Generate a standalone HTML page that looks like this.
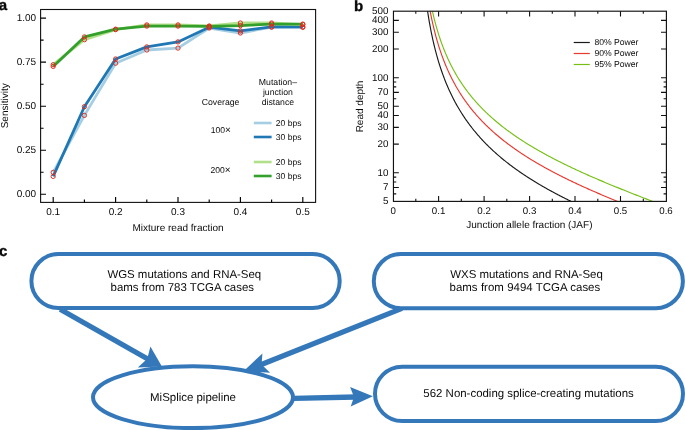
<!DOCTYPE html><html><head><meta charset="utf-8"><title>Figure</title><style>html,body{margin:0;padding:0;background:#fff}svg{display:block;will-change:transform}text{font-family:"Liberation Sans",sans-serif;fill:#0a0a0a;text-rendering:geometricPrecision}</style></head><body>
<svg width="685" height="430" viewBox="0 0 685 430">
<rect width="685" height="430" fill="#fff"/>
<polyline points="53.2,172.3 84.4,115.4 115.6,63.2 146.8,50.0 178.0,48.1 209.2,28.0 240.4,33.0 271.6,27.1 302.8,27.4" fill="none" stroke="#a6cee3" stroke-width="2.8" stroke-linejoin="round" stroke-linecap="butt"/>
<polyline points="53.2,176.4 84.4,106.7 115.6,59.0 146.8,46.9 178.0,41.9 209.2,27.2 240.4,30.9 271.6,26.9 302.8,26.8" fill="none" stroke="#1f78b4" stroke-width="2.8" stroke-linejoin="round" stroke-linecap="butt"/>
<polyline points="53.2,64.7 84.4,39.7 115.6,29.6 146.8,24.9 178.0,24.9 209.2,26.0 240.4,23.0 271.6,23.0 302.8,24.6" fill="none" stroke="#b2df8a" stroke-width="2.8" stroke-linejoin="round" stroke-linecap="butt"/>
<polyline points="53.2,66.4 84.4,36.9 115.6,29.2 146.8,26.1 178.0,26.1 209.2,26.4 240.4,25.6 271.6,24.1 302.8,24.1" fill="none" stroke="#33a02c" stroke-width="2.8" stroke-linejoin="round" stroke-linecap="butt"/>
<circle cx="53.2" cy="172.3" r="2.15" fill="none" stroke="#dd2a1e" stroke-width="0.95"/>
<circle cx="84.4" cy="115.4" r="2.15" fill="none" stroke="#dd2a1e" stroke-width="0.95"/>
<circle cx="115.6" cy="63.2" r="2.15" fill="none" stroke="#dd2a1e" stroke-width="0.95"/>
<circle cx="146.8" cy="50.0" r="2.15" fill="none" stroke="#dd2a1e" stroke-width="0.95"/>
<circle cx="178.0" cy="48.1" r="2.15" fill="none" stroke="#dd2a1e" stroke-width="0.95"/>
<circle cx="209.2" cy="28.0" r="2.15" fill="none" stroke="#dd2a1e" stroke-width="0.95"/>
<circle cx="240.4" cy="33.0" r="2.15" fill="none" stroke="#dd2a1e" stroke-width="0.95"/>
<circle cx="271.6" cy="27.1" r="2.15" fill="none" stroke="#dd2a1e" stroke-width="0.95"/>
<circle cx="302.8" cy="27.4" r="2.15" fill="none" stroke="#dd2a1e" stroke-width="0.95"/>
<circle cx="53.2" cy="176.4" r="2.15" fill="none" stroke="#dd2a1e" stroke-width="0.95"/>
<circle cx="84.4" cy="106.7" r="2.15" fill="none" stroke="#dd2a1e" stroke-width="0.95"/>
<circle cx="115.6" cy="59.0" r="2.15" fill="none" stroke="#dd2a1e" stroke-width="0.95"/>
<circle cx="146.8" cy="46.9" r="2.15" fill="none" stroke="#dd2a1e" stroke-width="0.95"/>
<circle cx="178.0" cy="41.9" r="2.15" fill="none" stroke="#dd2a1e" stroke-width="0.95"/>
<circle cx="209.2" cy="27.2" r="2.15" fill="none" stroke="#dd2a1e" stroke-width="0.95"/>
<circle cx="240.4" cy="30.9" r="2.15" fill="none" stroke="#dd2a1e" stroke-width="0.95"/>
<circle cx="271.6" cy="26.9" r="2.15" fill="none" stroke="#dd2a1e" stroke-width="0.95"/>
<circle cx="302.8" cy="26.8" r="2.15" fill="none" stroke="#dd2a1e" stroke-width="0.95"/>
<circle cx="53.2" cy="64.7" r="2.15" fill="none" stroke="#dd2a1e" stroke-width="0.95"/>
<circle cx="84.4" cy="39.7" r="2.15" fill="none" stroke="#dd2a1e" stroke-width="0.95"/>
<circle cx="115.6" cy="29.6" r="2.15" fill="none" stroke="#dd2a1e" stroke-width="0.95"/>
<circle cx="146.8" cy="24.9" r="2.15" fill="none" stroke="#dd2a1e" stroke-width="0.95"/>
<circle cx="178.0" cy="24.9" r="2.15" fill="none" stroke="#dd2a1e" stroke-width="0.95"/>
<circle cx="209.2" cy="26.0" r="2.15" fill="none" stroke="#dd2a1e" stroke-width="0.95"/>
<circle cx="240.4" cy="23.0" r="2.15" fill="none" stroke="#dd2a1e" stroke-width="0.95"/>
<circle cx="271.6" cy="23.0" r="2.15" fill="none" stroke="#dd2a1e" stroke-width="0.95"/>
<circle cx="302.8" cy="24.6" r="2.15" fill="none" stroke="#dd2a1e" stroke-width="0.95"/>
<circle cx="53.2" cy="66.4" r="2.15" fill="none" stroke="#dd2a1e" stroke-width="0.95"/>
<circle cx="84.4" cy="36.9" r="2.15" fill="none" stroke="#dd2a1e" stroke-width="0.95"/>
<circle cx="115.6" cy="29.2" r="2.15" fill="none" stroke="#dd2a1e" stroke-width="0.95"/>
<circle cx="146.8" cy="26.1" r="2.15" fill="none" stroke="#dd2a1e" stroke-width="0.95"/>
<circle cx="178.0" cy="26.1" r="2.15" fill="none" stroke="#dd2a1e" stroke-width="0.95"/>
<circle cx="209.2" cy="26.4" r="2.15" fill="none" stroke="#dd2a1e" stroke-width="0.95"/>
<circle cx="240.4" cy="25.6" r="2.15" fill="none" stroke="#dd2a1e" stroke-width="0.95"/>
<circle cx="271.6" cy="24.1" r="2.15" fill="none" stroke="#dd2a1e" stroke-width="0.95"/>
<circle cx="302.8" cy="24.1" r="2.15" fill="none" stroke="#dd2a1e" stroke-width="0.95"/>
<rect x="40.6" y="9.5" width="275.0" height="192.9" fill="none" stroke="#111" stroke-width="1.1"/>
<path d="M40.6 194.2h5.4 M40.6 150.2h5.4 M40.6 106.2h5.4 M40.6 62.1h5.4 M40.6 18.1h5.4 M40.6 172.2h3 M40.6 128.2h3 M40.6 84.2h3 M40.6 40.1h3 M53.2 202.4v-5.3 M84.4 202.4v-2.8 M115.6 202.4v-5.3 M146.8 202.4v-2.8 M178.0 202.4v-5.3 M209.2 202.4v-2.8 M240.4 202.4v-5.3 M271.6 202.4v-2.8 M302.8 202.4v-5.3" stroke="#000" stroke-width="1.15" fill="none"/>
<text x="36.2" y="197.1" font-size="10" text-anchor="end">0.00</text>
<text x="36.2" y="153.1" font-size="10" text-anchor="end">0.25</text>
<text x="36.2" y="109.1" font-size="10" text-anchor="end">0.50</text>
<text x="36.2" y="65.0" font-size="10" text-anchor="end">0.75</text>
<text x="36.2" y="21.0" font-size="10" text-anchor="end">1.00</text>
<text x="53.2" y="215.1" font-size="10" text-anchor="middle">0.1</text>
<text x="115.6" y="215.1" font-size="10" text-anchor="middle">0.2</text>
<text x="178.0" y="215.1" font-size="10" text-anchor="middle">0.3</text>
<text x="240.4" y="215.1" font-size="10" text-anchor="middle">0.4</text>
<text x="302.8" y="215.1" font-size="10" text-anchor="middle">0.5</text>
<text x="178" y="231.1" font-size="10" text-anchor="middle">Mixture read fraction</text>
<text transform="translate(7.5,105.8) rotate(-90)" font-size="10" text-anchor="middle">Sensitivity</text>
<text x="-1.2" y="10.2" font-size="15" font-weight="bold" fill="#000" stroke="#000" stroke-width="0.35">a</text>
<text x="220.6" y="105" font-size="8.7" text-anchor="middle">Coverage</text>
<text x="277.9" y="84.9" font-size="8.7" text-anchor="middle">Mutation–</text>
<text x="277.9" y="94.9" font-size="8.7" text-anchor="middle">junction</text>
<text x="277.9" y="105" font-size="8.7" text-anchor="middle">distance</text>
<text x="220.9" y="133.1" font-size="8.55" text-anchor="middle">100<tspan font-size="10">×</tspan></text>
<text x="220.5" y="173" font-size="8.55" text-anchor="middle">200<tspan font-size="10">×</tspan></text>
<line x1="253.8" x2="271.6" y1="123.0" y2="123.0" stroke="#a6cee3" stroke-width="2.6"/>
<text x="275.8" y="126.0" font-size="8.55">20 bps</text>
<line x1="253.8" x2="271.6" y1="137.0" y2="137.0" stroke="#1f78b4" stroke-width="2.6"/>
<text x="275.8" y="140.0" font-size="8.55">30 bps</text>
<line x1="253.8" x2="271.6" y1="162.0" y2="162.0" stroke="#b2df8a" stroke-width="2.6"/>
<text x="275.8" y="165.0" font-size="8.55">20 bps</text>
<line x1="253.8" x2="271.6" y1="176.0" y2="176.0" stroke="#33a02c" stroke-width="2.6"/>
<text x="275.8" y="179.0" font-size="8.55">30 bps</text>
<clipPath id="cb"><rect x="393.1" y="11.2" width="272.9" height="190.20000000000002"/></clipPath>
<polyline points="424.94,-8.68 425.54,-3.64 426.15,1.09 426.75,5.53 427.35,9.72 427.96,13.70 428.56,17.46 429.17,21.05 429.77,24.47 430.38,27.73 430.98,30.86 431.58,33.86 432.19,36.74 432.79,39.51 433.40,42.18 434.00,44.75 434.60,47.23 435.21,49.64 435.81,51.96 436.42,54.21 437.02,56.39 437.63,58.51 438.23,60.56 438.83,62.56 439.44,64.50 440.04,66.40 440.65,68.24 441.25,70.03 441.85,71.78 442.46,73.49 443.06,75.16 443.67,76.79 444.27,78.38 444.88,79.94 445.48,81.46 446.08,82.95 446.69,84.41 447.29,85.84 447.90,87.24 448.50,88.61 449.10,89.96 449.71,91.28 450.31,92.58 450.92,93.85 451.52,95.10 452.13,96.32 452.73,97.53 453.33,98.72 453.94,99.88 454.54,101.03 455.15,102.16 455.75,103.27 456.35,104.36 456.96,105.43 457.56,106.49 458.17,107.54 458.77,108.56 459.38,109.57 459.98,110.57 460.58,111.56 461.19,112.53 461.79,113.48 462.40,114.42 463.00,115.36 463.60,116.27 464.21,117.18 464.81,118.07 465.42,118.96 466.02,119.83 466.63,120.69 467.23,121.54 467.83,122.38 468.44,123.21 469.04,124.03 469.65,124.84 470.25,125.64 470.85,126.44 471.46,127.22 472.06,127.99 472.67,128.76 473.27,129.52 473.88,130.27 474.48,131.01 475.08,131.74 475.69,132.47 476.29,133.19 476.90,133.90 477.50,134.60 478.10,135.30 478.71,135.99 479.31,136.67 479.92,137.35 480.52,138.02 481.13,138.68 481.73,139.34 482.33,139.99 482.94,140.64 483.54,141.28 484.15,141.91 484.75,142.54 485.35,143.16 485.96,143.78 486.56,144.39 487.17,145.00 487.77,145.60 488.38,146.20 488.98,146.79 489.58,147.37 490.19,147.96 490.79,148.53 491.40,149.10 492.00,149.67 492.60,150.24 493.21,150.80 493.81,151.35 494.42,151.90 495.02,152.45 495.63,152.99 496.23,153.53 496.83,154.06 497.44,154.59 498.04,155.12 498.65,155.64 499.25,156.16 499.85,156.67 500.46,157.18 501.06,157.69 501.67,158.20 502.27,158.70 502.88,159.20 503.48,159.69 504.08,160.18 504.69,160.67 505.29,161.15 505.90,161.63 506.50,162.11 507.10,162.59 507.71,163.06 508.31,163.53 508.92,163.99 509.52,164.46 510.13,164.92 510.73,165.37 511.33,165.83 511.94,166.28 512.54,166.73 513.15,167.17 513.75,167.62 514.35,168.06 514.96,168.50 515.56,168.93 516.17,169.37 516.77,169.80 517.38,170.23 517.98,170.65 518.58,171.08 519.19,171.50 519.79,171.92 520.40,172.34 521.00,172.75 521.60,173.16 522.21,173.57 522.81,173.98 523.42,174.39 524.02,174.79 524.63,175.19 525.23,175.59 525.83,175.99 526.44,176.39 527.04,176.78 527.65,177.17 528.25,177.56 528.85,177.95 529.46,178.33 530.06,178.72 530.67,179.10 531.27,179.48 531.88,179.86 532.48,180.24 533.08,180.61 533.69,180.99 534.29,181.36 534.90,181.73 535.50,182.09 536.10,182.46 536.71,182.83 537.31,183.19 537.92,183.55 538.52,183.91 539.13,184.27 539.73,184.63 540.33,184.98 540.94,185.34 541.54,185.69 542.15,186.04 542.75,186.39 543.35,186.74 543.96,187.08 544.56,187.43 545.17,187.77 545.77,188.11 546.38,188.45 546.98,188.79 547.58,189.13 548.19,189.47 548.79,189.80 549.40,190.14 550.00,190.47 550.60,190.80 551.21,191.13 551.81,191.46 552.42,191.79 553.02,192.12 553.63,192.44 554.23,192.77 554.83,193.09 555.44,193.41 556.04,193.73 556.65,194.05 557.25,194.37 557.85,194.69 558.46,195.00 559.06,195.32 559.67,195.63 560.27,195.95 560.88,196.26 561.48,196.57 562.08,196.88 562.69,197.19 563.29,197.49 563.90,197.80 564.50,198.11 565.10,198.41 565.71,198.72 566.31,199.02 566.92,199.32 567.52,199.62 568.13,199.92 568.73,200.22 569.33,200.52 569.94,200.81 570.54,201.11 571.15,201.40 571.75,201.70 572.35,201.99 572.96,202.28 573.56,202.58 574.17,202.87 574.77,203.16 575.38,203.45 575.98,203.73 576.58,204.02 577.19,204.31 577.79,204.59 578.40,204.88 579.00,205.16 579.60,205.45 580.21,205.73 580.81,206.01 581.42,206.29 582.02,206.57 582.63,206.85 583.23,207.13 583.83,207.41 584.44,207.68 585.04,207.96 585.65,208.24 586.25,208.51 586.85,208.79 587.46,209.06 588.06,209.33 588.67,209.60 589.27,209.88 589.88,210.15 590.48,210.42 591.08,210.69 591.69,210.96 592.29,211.22 592.90,211.49 593.50,211.76 594.10,212.02 594.71,212.29 595.31,212.56 595.92,212.82 596.52,213.08 597.13,213.35 597.73,213.61 598.33,213.87 598.94,214.13 599.54,214.39 600.15,214.66 600.75,214.91 601.35,215.17 601.96,215.43 602.56,215.69 603.17,215.95 603.77,216.21 604.38,216.46 604.98,216.72 605.58,216.97 606.19,217.23 606.79,217.48 607.40,217.74 608.00,217.99 608.60,218.24 609.21,218.50 609.81,218.75 610.42,219.00 611.02,219.25 611.63,219.50 612.23,219.75 612.83,220.00 613.44,220.25 614.04,220.50 614.65,220.75 615.25,220.99 615.85,221.24 616.46,221.49 617.06,221.73 617.67,221.98 618.27,222.23 618.88,222.47" fill="none" stroke="#1a1a1a" stroke-width="1.15" clip-path="url(#cb)"/>
<polyline points="426.75,-9.46 427.35,-5.33 427.96,-1.43 428.56,2.27 429.17,5.79 429.77,9.14 430.38,12.35 430.98,15.41 431.58,18.35 432.19,21.17 432.79,23.88 433.40,26.49 434.00,29.00 434.60,31.43 435.21,33.77 435.81,36.04 436.42,38.24 437.02,40.37 437.63,42.43 438.23,44.44 438.83,46.38 439.44,48.28 440.04,50.12 440.65,51.91 441.25,53.66 441.85,55.36 442.46,57.02 443.06,58.64 443.67,60.23 444.27,61.77 444.88,63.29 445.48,64.77 446.08,66.21 446.69,67.63 447.29,69.02 447.90,70.38 448.50,71.71 449.10,73.01 449.71,74.30 450.31,75.55 450.92,76.79 451.52,78.00 452.13,79.19 452.73,80.36 453.33,81.50 453.94,82.63 454.54,83.74 455.15,84.84 455.75,85.91 456.35,86.97 456.96,88.01 457.56,89.03 458.17,90.04 458.77,91.04 459.38,92.02 459.98,92.98 460.58,93.93 461.19,94.87 461.79,95.79 462.40,96.71 463.00,97.61 463.60,98.49 464.21,99.37 464.81,100.24 465.42,101.09 466.02,101.93 466.63,102.76 467.23,103.59 467.83,104.40 468.44,105.20 469.04,105.99 469.65,106.78 470.25,107.55 470.85,108.32 471.46,109.07 472.06,109.82 472.67,110.56 473.27,111.29 473.88,112.02 474.48,112.73 475.08,113.44 475.69,114.14 476.29,114.84 476.90,115.52 477.50,116.20 478.10,116.88 478.71,117.54 479.31,118.20 479.92,118.86 480.52,119.50 481.13,120.15 481.73,120.78 482.33,121.41 482.94,122.03 483.54,122.65 484.15,123.26 484.75,123.87 485.35,124.47 485.96,125.07 486.56,125.66 487.17,126.25 487.77,126.83 488.38,127.40 488.98,127.98 489.58,128.54 490.19,129.11 490.79,129.66 491.40,130.22 492.00,130.77 492.60,131.31 493.21,131.85 493.81,132.39 494.42,132.92 495.02,133.45 495.63,133.97 496.23,134.49 496.83,135.01 497.44,135.52 498.04,136.03 498.65,136.53 499.25,137.04 499.85,137.53 500.46,138.03 501.06,138.52 501.67,139.01 502.27,139.49 502.88,139.97 503.48,140.45 504.08,140.93 504.69,141.40 505.29,141.87 505.90,142.33 506.50,142.80 507.10,143.26 507.71,143.71 508.31,144.17 508.92,144.62 509.52,145.07 510.13,145.51 510.73,145.95 511.33,146.39 511.94,146.83 512.54,147.27 513.15,147.70 513.75,148.13 514.35,148.56 514.96,148.98 515.56,149.41 516.17,149.83 516.77,150.24 517.38,150.66 517.98,151.07 518.58,151.48 519.19,151.89 519.79,152.30 520.40,152.70 521.00,153.11 521.60,153.51 522.21,153.91 522.81,154.30 523.42,154.70 524.02,155.09 524.63,155.48 525.23,155.87 525.83,156.25 526.44,156.64 527.04,157.02 527.65,157.40 528.25,157.78 528.85,158.16 529.46,158.53 530.06,158.90 530.67,159.28 531.27,159.65 531.88,160.01 532.48,160.38 533.08,160.75 533.69,161.11 534.29,161.47 534.90,161.83 535.50,162.19 536.10,162.55 536.71,162.90 537.31,163.25 537.92,163.61 538.52,163.96 539.13,164.31 539.73,164.65 540.33,165.00 540.94,165.35 541.54,165.69 542.15,166.03 542.75,166.37 543.35,166.71 543.96,167.05 544.56,167.39 545.17,167.72 545.77,168.05 546.38,168.39 546.98,168.72 547.58,169.05 548.19,169.38 548.79,169.71 549.40,170.03 550.00,170.36 550.60,170.68 551.21,171.00 551.81,171.33 552.42,171.65 553.02,171.97 553.63,172.28 554.23,172.60 554.83,172.92 555.44,173.23 556.04,173.54 556.65,173.86 557.25,174.17 557.85,174.48 558.46,174.79 559.06,175.10 559.67,175.41 560.27,175.71 560.88,176.02 561.48,176.32 562.08,176.63 562.69,176.93 563.29,177.23 563.90,177.53 564.50,177.83 565.10,178.13 565.71,178.43 566.31,178.72 566.92,179.02 567.52,179.31 568.13,179.61 568.73,179.90 569.33,180.19 569.94,180.49 570.54,180.78 571.15,181.07 571.75,181.36 572.35,181.64 572.96,181.93 573.56,182.22 574.17,182.50 574.77,182.79 575.38,183.07 575.98,183.36 576.58,183.64 577.19,183.92 577.79,184.20 578.40,184.48 579.00,184.76 579.60,185.04 580.21,185.32 580.81,185.60 581.42,185.88 582.02,186.15 582.63,186.43 583.23,186.70 583.83,186.98 584.44,187.25 585.04,187.52 585.65,187.80 586.25,188.07 586.85,188.34 587.46,188.61 588.06,188.88 588.67,189.15 589.27,189.42 589.88,189.68 590.48,189.95 591.08,190.22 591.69,190.48 592.29,190.75 592.90,191.01 593.50,191.28 594.10,191.54 594.71,191.80 595.31,192.07 595.92,192.33 596.52,192.59 597.13,192.85 597.73,193.11 598.33,193.37 598.94,193.63 599.54,193.89 600.15,194.15 600.75,194.41 601.35,194.66 601.96,194.92 602.56,195.18 603.17,195.43 603.77,195.69 604.38,195.94 604.98,196.20 605.58,196.45 606.19,196.71 606.79,196.96 607.40,197.21 608.00,197.46 608.60,197.71 609.21,197.97 609.81,198.22 610.42,198.47 611.02,198.72 611.63,198.97 612.23,199.22 612.83,199.47 613.44,199.71 614.04,199.96 614.65,200.21 615.25,200.46 615.85,200.70 616.46,200.95 617.06,201.20 617.67,201.44 618.27,201.69 618.88,201.93 619.48,202.18 620.08,202.42 620.69,202.66 621.29,202.91 621.90,203.15 622.50,203.39 623.10,203.64 623.71,203.88 624.31,204.12 624.92,204.36 625.52,204.60 626.13,204.84 626.73,205.09 627.33,205.33 627.94,205.57 628.54,205.81 629.15,206.04 629.75,206.28 630.35,206.52 630.96,206.76 631.56,207.00 632.17,207.24 632.77,207.48 633.38,207.71 633.98,207.95 634.58,208.19 635.19,208.42 635.79,208.66 636.40,208.90 637.00,209.13 637.60,209.37 638.21,209.60 638.81,209.84 639.42,210.07 640.02,210.31 640.63,210.54 641.23,210.78 641.83,211.01 642.44,211.25 643.04,211.48 643.65,211.71 644.25,211.95 644.85,212.18 645.46,212.41 646.06,212.65 646.67,212.88 647.27,213.11 647.88,213.34 648.48,213.58 649.08,213.81 649.69,214.04 650.29,214.27 650.90,214.50 651.50,214.73 652.10,214.97 652.71,215.20 653.31,215.43 653.92,215.66 654.52,215.89 655.13,216.12 655.73,216.35 656.33,216.58 656.94,216.81 657.54,217.04 658.15,217.27 658.75,217.50 659.35,217.73 659.96,217.96 660.56,218.19 661.17,218.42 661.77,218.65 662.38,218.88 662.98,219.10 663.58,219.33 664.19,219.56 664.79,219.79 665.40,220.02 666.00,220.25" fill="none" stroke="#e8392f" stroke-width="1.15" clip-path="url(#cb)"/>
<polyline points="427.96,-12.12 428.56,-8.46 429.17,-4.98 429.77,-1.67 430.38,1.50 430.98,4.52 431.58,7.42 432.19,10.21 432.79,12.88 433.40,15.46 434.00,17.94 434.60,20.33 435.21,22.64 435.81,24.88 436.42,27.04 437.02,29.14 437.63,31.17 438.23,33.15 438.83,35.06 439.44,36.93 440.04,38.74 440.65,40.50 441.25,42.22 441.85,43.90 442.46,45.53 443.06,47.13 443.67,48.68 444.27,50.20 444.88,51.69 445.48,53.14 446.08,54.57 446.69,55.96 447.29,57.32 447.90,58.65 448.50,59.96 449.10,61.25 449.71,62.50 450.31,63.74 450.92,64.95 451.52,66.14 452.13,67.31 452.73,68.45 453.33,69.58 453.94,70.69 454.54,71.78 455.15,72.85 455.75,73.90 456.35,74.94 456.96,75.96 457.56,76.97 458.17,77.95 458.77,78.93 459.38,79.89 459.98,80.84 460.58,81.77 461.19,82.69 461.79,83.60 462.40,84.49 463.00,85.37 463.60,86.24 464.21,87.10 464.81,87.95 465.42,88.79 466.02,89.61 466.63,90.43 467.23,91.23 467.83,92.03 468.44,92.81 469.04,93.59 469.65,94.36 470.25,95.12 470.85,95.87 471.46,96.61 472.06,97.34 472.67,98.07 473.27,98.79 473.88,99.50 474.48,100.20 475.08,100.89 475.69,101.58 476.29,102.26 476.90,102.93 477.50,103.60 478.10,104.26 478.71,104.91 479.31,105.56 479.92,106.20 480.52,106.83 481.13,107.46 481.73,108.09 482.33,108.70 482.94,109.31 483.54,109.92 484.15,110.52 484.75,111.11 485.35,111.70 485.96,112.29 486.56,112.87 487.17,113.44 487.77,114.01 488.38,114.58 488.98,115.14 489.58,115.69 490.19,116.25 490.79,116.79 491.40,117.33 492.00,117.87 492.60,118.41 493.21,118.94 493.81,119.46 494.42,119.98 495.02,120.50 495.63,121.02 496.23,121.53 496.83,122.03 497.44,122.54 498.04,123.03 498.65,123.53 499.25,124.02 499.85,124.51 500.46,125.00 501.06,125.48 501.67,125.96 502.27,126.43 502.88,126.90 503.48,127.37 504.08,127.84 504.69,128.30 505.29,128.76 505.90,129.22 506.50,129.67 507.10,130.13 507.71,130.57 508.31,131.02 508.92,131.46 509.52,131.90 510.13,132.34 510.73,132.78 511.33,133.21 511.94,133.64 512.54,134.07 513.15,134.49 513.75,134.91 514.35,135.33 514.96,135.75 515.56,136.17 516.17,136.58 516.77,136.99 517.38,137.40 517.98,137.80 518.58,138.21 519.19,138.61 519.79,139.01 520.40,139.41 521.00,139.80 521.60,140.20 522.21,140.59 522.81,140.98 523.42,141.37 524.02,141.75 524.63,142.14 525.23,142.52 525.83,142.90 526.44,143.27 527.04,143.65 527.65,144.03 528.25,144.40 528.85,144.77 529.46,145.14 530.06,145.51 530.67,145.87 531.27,146.24 531.88,146.60 532.48,146.96 533.08,147.32 533.69,147.68 534.29,148.03 534.90,148.39 535.50,148.74 536.10,149.09 536.71,149.44 537.31,149.79 537.92,150.14 538.52,150.48 539.13,150.83 539.73,151.17 540.33,151.51 540.94,151.85 541.54,152.19 542.15,152.53 542.75,152.86 543.35,153.20 543.96,153.53 544.56,153.86 545.17,154.19 545.77,154.52 546.38,154.85 546.98,155.18 547.58,155.50 548.19,155.83 548.79,156.15 549.40,156.47 550.00,156.79 550.60,157.11 551.21,157.43 551.81,157.75 552.42,158.07 553.02,158.38 553.63,158.69 554.23,159.01 554.83,159.32 555.44,159.63 556.04,159.94 556.65,160.25 557.25,160.56 557.85,160.86 558.46,161.17 559.06,161.48 559.67,161.78 560.27,162.08 560.88,162.38 561.48,162.69 562.08,162.99 562.69,163.28 563.29,163.58 563.90,163.88 564.50,164.18 565.10,164.47 565.71,164.77 566.31,165.06 566.92,165.35 567.52,165.65 568.13,165.94 568.73,166.23 569.33,166.52 569.94,166.81 570.54,167.09 571.15,167.38 571.75,167.67 572.35,167.95 572.96,168.24 573.56,168.52 574.17,168.81 574.77,169.09 575.38,169.37 575.98,169.65 576.58,169.93 577.19,170.21 577.79,170.49 578.40,170.77 579.00,171.05 579.60,171.32 580.21,171.60 580.81,171.87 581.42,172.15 582.02,172.42 582.63,172.70 583.23,172.97 583.83,173.24 584.44,173.51 585.04,173.78 585.65,174.05 586.25,174.32 586.85,174.59 587.46,174.86 588.06,175.13 588.67,175.40 589.27,175.66 589.88,175.93 590.48,176.19 591.08,176.46 591.69,176.72 592.29,176.99 592.90,177.25 593.50,177.51 594.10,177.78 594.71,178.04 595.31,178.30 595.92,178.56 596.52,178.82 597.13,179.08 597.73,179.34 598.33,179.60 598.94,179.86 599.54,180.11 600.15,180.37 600.75,180.63 601.35,180.88 601.96,181.14 602.56,181.40 603.17,181.65 603.77,181.90 604.38,182.16 604.98,182.41 605.58,182.67 606.19,182.92 606.79,183.17 607.40,183.42 608.00,183.67 608.60,183.92 609.21,184.18 609.81,184.43 610.42,184.68 611.02,184.93 611.63,185.17 612.23,185.42 612.83,185.67 613.44,185.92 614.04,186.17 614.65,186.41 615.25,186.66 615.85,186.91 616.46,187.15 617.06,187.40 617.67,187.65 618.27,187.89 618.88,188.14 619.48,188.38 620.08,188.62 620.69,188.87 621.29,189.11 621.90,189.35 622.50,189.60 623.10,189.84 623.71,190.08 624.31,190.32 624.92,190.57 625.52,190.81 626.13,191.05 626.73,191.29 627.33,191.53 627.94,191.77 628.54,192.01 629.15,192.25 629.75,192.49 630.35,192.73 630.96,192.97 631.56,193.21 632.17,193.45 632.77,193.69 633.38,193.92 633.98,194.16 634.58,194.40 635.19,194.64 635.79,194.87 636.40,195.11 637.00,195.35 637.60,195.59 638.21,195.82 638.81,196.06 639.42,196.29 640.02,196.53 640.63,196.77 641.23,197.00 641.83,197.24 642.44,197.47 643.04,197.71 643.65,197.94 644.25,198.18 644.85,198.41 645.46,198.65 646.06,198.88 646.67,199.11 647.27,199.35 647.88,199.58 648.48,199.81 649.08,200.05 649.69,200.28 650.29,200.51 650.90,200.75 651.50,200.98 652.10,201.21 652.71,201.45 653.31,201.68 653.92,201.91 654.52,202.14 655.13,202.38 655.73,202.61 656.33,202.84 656.94,203.07 657.54,203.30 658.15,203.54 658.75,203.77 659.35,204.00 659.96,204.23 660.56,204.46 661.17,204.70 661.77,204.93 662.38,205.16 662.98,205.39 663.58,205.62 664.19,205.85 664.79,206.08 665.40,206.31 666.00,206.55" fill="none" stroke="#76c015" stroke-width="1.15" clip-path="url(#cb)"/>
<rect x="393.45" y="11.2" width="272.95" height="190.20000000000002" fill="none" stroke="#111" stroke-width="1.15"/>
<path d="M393.45 20.4h5.4M666.4 20.4h-5.4 M393.45 32.3h5.4M666.4 32.3h-5.4 M393.45 49.0h5.4M666.4 49.0h-5.4 M393.45 77.7h5.4M666.4 77.7h-5.4 M393.45 92.4h5.4M666.4 92.4h-5.4 M393.45 106.3h5.4M666.4 106.3h-5.4 M393.45 115.5h5.4M666.4 115.5h-5.4 M393.45 127.4h5.4M666.4 127.4h-5.4 M393.45 144.1h5.4M666.4 144.1h-5.4 M393.45 172.8h5.4M666.4 172.8h-5.4 M393.45 187.5h5.4M666.4 187.5h-5.4 M393.45 82.0h2.8M666.4 82.0h-2.8 M393.45 86.9h2.8M666.4 86.9h-2.8 M393.45 98.8h2.8M666.4 98.8h-2.8 M393.45 177.1h2.8M666.4 177.1h-2.8 M393.45 182.0h2.8M666.4 182.0h-2.8 M393.45 193.9h2.8M666.4 193.9h-2.8 M415.8 201.4v-2.6M415.8 11.2v2.6 M438.6 201.4v-5.3M438.6 11.2v5.3 M461.3 201.4v-2.6M461.3 11.2v2.6 M484.1 201.4v-5.3M484.1 11.2v5.3 M506.8 201.4v-2.6M506.8 11.2v2.6 M529.6 201.4v-5.3M529.6 11.2v5.3 M552.3 201.4v-2.6M552.3 11.2v2.6 M575.0 201.4v-5.3M575.0 11.2v5.3 M597.8 201.4v-2.6M597.8 11.2v2.6 M620.5 201.4v-5.3M620.5 11.2v5.3 M643.3 201.4v-2.6M643.3 11.2v2.6" stroke="#111" stroke-width="1.1" fill="none"/>
<text x="388.4" y="14.1" font-size="9.8" text-anchor="end">500</text>
<text x="388.4" y="23.3" font-size="9.8" text-anchor="end">400</text>
<text x="388.4" y="35.2" font-size="9.8" text-anchor="end">300</text>
<text x="388.4" y="51.9" font-size="9.8" text-anchor="end">200</text>
<text x="388.4" y="80.6" font-size="9.8" text-anchor="end">100</text>
<text x="388.4" y="95.3" font-size="9.8" text-anchor="end">70</text>
<text x="388.4" y="109.2" font-size="9.8" text-anchor="end">50</text>
<text x="388.4" y="118.4" font-size="9.8" text-anchor="end">40</text>
<text x="388.4" y="130.3" font-size="9.8" text-anchor="end">30</text>
<text x="388.4" y="147.0" font-size="9.8" text-anchor="end">20</text>
<text x="388.4" y="175.7" font-size="9.8" text-anchor="end">10</text>
<text x="388.4" y="190.4" font-size="9.8" text-anchor="end">7</text>
<text x="388.4" y="204.3" font-size="9.8" text-anchor="end">5</text>
<text x="393.1" y="213.9" font-size="9.7" text-anchor="middle">0</text>
<text x="438.6" y="213.9" font-size="9.7" text-anchor="middle">0.1</text>
<text x="484.1" y="213.9" font-size="9.7" text-anchor="middle">0.2</text>
<text x="529.6" y="213.9" font-size="9.7" text-anchor="middle">0.3</text>
<text x="575.0" y="213.9" font-size="9.7" text-anchor="middle">0.4</text>
<text x="620.5" y="213.9" font-size="9.7" text-anchor="middle">0.5</text>
<text x="666.0" y="213.9" font-size="9.7" text-anchor="middle">0.6</text>
<text x="529.4" y="227.6" font-size="10" text-anchor="middle">Junction allele fraction (JAF)</text>
<text transform="translate(363.2,106.5) rotate(-90)" font-size="10" text-anchor="middle">Read depth</text>
<text x="354.0" y="10.6" font-size="15" font-weight="bold" fill="#000" stroke="#000" stroke-width="0.35">b</text>
<line x1="573.7" x2="589.8" y1="42.5" y2="42.5" stroke="#1a1a1a" stroke-width="1.2"/>
<text x="594.4" y="45.4" font-size="8.65">80% Power</text>
<line x1="573.7" x2="589.8" y1="53.5" y2="53.5" stroke="#e8392f" stroke-width="1.2"/>
<text x="594.4" y="56.2" font-size="8.65">90% Power</text>
<line x1="573.7" x2="589.8" y1="64.5" y2="64.5" stroke="#76c015" stroke-width="1.2"/>
<text x="594.4" y="67.0" font-size="8.65">95% Power</text>
<text x="-1.0" y="256.2" font-size="15" font-weight="bold" fill="#000" stroke="#000" stroke-width="0.35">c</text>
<line x1="60.1" y1="309.2" x2="148.6" y2="359.5" stroke="#3578ba" stroke-width="5.2"/>
<path d="M161.9 366.4L150.4 346.5L147.3 358.8L137.8 367.5Z" fill="#3578ba"/>
<line x1="402.0" y1="308.4" x2="260.2" y2="365.0" stroke="#3578ba" stroke-width="5.2"/>
<path d="M243.5 371.2L262.4 353.4L261.6 364.4L270.1 372.7Z" fill="#3578ba"/>
<line x1="294.0" y1="398.3" x2="355.5" y2="397.0" stroke="#3578ba" stroke-width="5.3"/>
<path d="M372.9 396.3L350.1 387.0L354.0 397.0L350.7 406.4Z" fill="#3578ba"/>
<rect x="31.4" y="254.1" width="308.3" height="54.00000000000003" rx="27.000000000000014" ry="27.000000000000014" fill="#fff" stroke="#3578ba" stroke-width="4.0"/>
<rect x="373.8" y="254.1" width="309.09999999999997" height="54.099999999999994" rx="27.049999999999997" ry="27.049999999999997" fill="#fff" stroke="#3578ba" stroke-width="4.0"/>
<rect x="375.0" y="366.7" width="308.0" height="54.30000000000001" rx="27.150000000000006" ry="27.150000000000006" fill="#fff" stroke="#3578ba" stroke-width="4.0"/>
<ellipse cx="193" cy="397.2" rx="100" ry="30.9" fill="#fff" stroke="#3578ba" stroke-width="4.0"/>
<text x="184.3" y="278.15" font-size="11.45" text-anchor="middle">WGS mutations and RNA-Seq</text>
<text x="182.3" y="291.45" font-size="11.45" text-anchor="middle">bams from 783 TCGA cases</text>
<text x="526.5" y="278.15" font-size="11.45" text-anchor="middle">WXS mutations and RNA-Seq</text>
<text x="524.9" y="291.45" font-size="11.45" text-anchor="middle" word-spacing="0.2">bams from 9494 TCGA cases</text>
<text x="193" y="400.5" font-size="11.45" text-anchor="middle">MiSplice pipeline</text>
<text x="528.6" y="397.1" font-size="11.45" text-anchor="middle">562 Non-coding splice-creating mutations</text>
</svg></body></html>
